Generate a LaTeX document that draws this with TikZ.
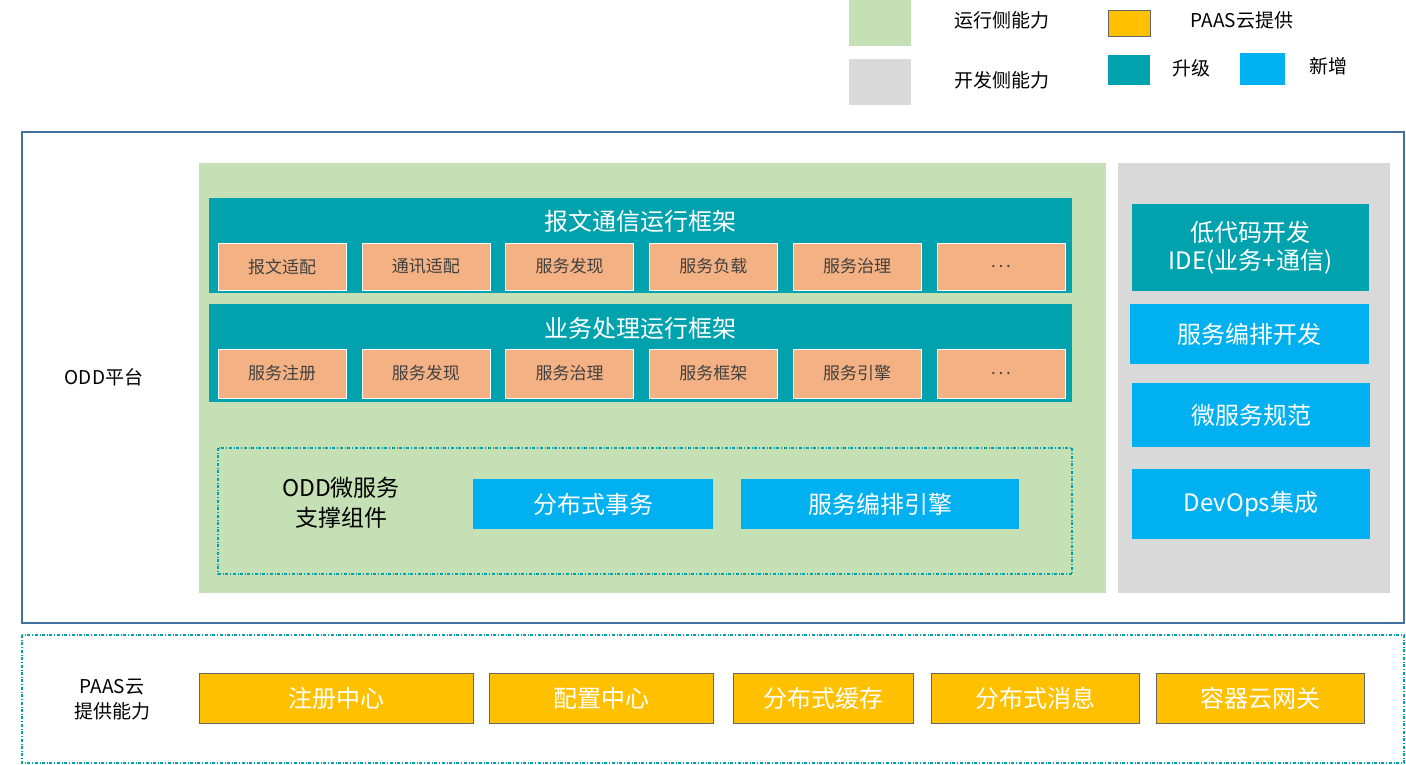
\documentclass[tikz,border=0pt]{standalone}
\usepackage{fontspec}
\setmainfont{Noto Sans CJK SC}
\definecolor{upg}{RGB}{0,162,174}
\definecolor{newc}{RGB}{0,176,240}
\definecolor{salmon}{RGB}{244,177,131}
\definecolor{rungreen}{RGB}{197,224,180}
\definecolor{devgray}{RGB}{217,217,217}
\definecolor{paas}{RGB}{255,192,0}
\definecolor{framec}{RGB}{65,113,156}
\tikzset{
  blk/.style={rectangle, inner sep=0pt, align=center},
  upgbox/.style={blk, fill=upg, text=white, font=\fontsize{24}{28}\selectfont},
  newbox/.style={blk, fill=newc, text=white, font=\fontsize{24}{28}\selectfont},
  subbox/.style={blk, fill=salmon, draw=white, text=black!75, minimum width=128pt, minimum height=47pt, font=\fontsize{17}{20}\selectfont},
  paasbox/.style={blk, fill=paas, draw=black!60, text=white, minimum height=50pt, font=\fontsize{24}{28}\selectfont},
  lbl/.style={inner sep=0pt, align=center, text=black, font=\fontsize{19}{25}\selectfont},
  dashframe/.style={draw=upg, dash dot, line width=1.2pt}
}
\begin{document}
\begin{tikzpicture}[x=1pt, y=-1pt]
    \useasboundingbox (0,0) rectangle (1406,765);
    % legend
    \fill[rungreen] (849,0) rectangle (911,46);
    \fill[devgray] (849,59) rectangle (911,105);
    \node[lbl] (lrun) at (1002,20) {运行侧能力};
    \node[lbl] (ldev) at (1002,80) {开发侧能力};
    \node[blk, fill=paas, draw=black!60, minimum width=42pt, minimum height=26pt] (kpaas) at (1129,23) {};
    \node[lbl] (lpaas) at (1242,20) {PAAS云提供};
    \node[blk, fill=upg, minimum width=42pt, minimum height=30pt] (kupg) at (1129,70) {};
    \node[lbl] (lupg) at (1191,68) {升级};
    \node[blk, fill=newc, minimum width=45pt, minimum height=32pt] (knew) at (1262.5,69) {};
    \node[lbl] (lnew) at (1328,66) {新增};

    % ODD platform
    \draw[framec, line width=1.2pt] (22,132) rectangle (1404,623);
    \node[lbl] (odd) at (104,377) {ODD平台};
    \fill[rungreen] (199,163) rectangle (1106,593);
    \fill[devgray] (1118,163) rectangle (1390,593);

    \node[upgbox, minimum width=863pt, minimum height=95pt] (msgfw) at (640.5,245.5) {};
    \node[text=white, font=\fontsize{24}{28}\selectfont] (msgt) at (640,221) {报文通信运行框架};
    \foreach \t [count=\i] in {报文适配,通讯适配,服务发现,服务负载,服务治理,{.\,.\,.}}
        \node[subbox] (m\i) at ({282+143.8*(\i-1)},266.5) {\t};

    \node[upgbox, minimum width=863pt, minimum height=98pt] (bizfw) at (640.5,353) {};
    \node[text=white, font=\fontsize{24}{28}\selectfont] (bizt) at (640,328) {业务处理运行框架};
    \foreach \t [count=\i] in {服务注册,服务发现,服务治理,服务框架,服务引擎,{.\,.\,.}}
        \node[subbox, minimum height=49pt] (b\i) at ({282+143.8*(\i-1)},373.5) {\t};

    \draw[dashframe] (218,448) rectangle (1072,574);
    \node[lbl, font=\fontsize{23}{30}\selectfont] (sup) at (341,503) {ODD微服务\\支撑组件};
    \node[newbox, minimum width=240pt, minimum height=50pt] (dtx) at (593,504) {分布式事务};
    \node[newbox, minimum width=278pt, minimum height=50pt] (orch) at (880,504) {服务编排引擎};

    % development side
    \node[upgbox, minimum width=237pt, minimum height=87pt] (ide) at (1250.5,247.5) {低代码开发\\IDE(业务+通信)};
    \node[newbox, minimum width=239pt, minimum height=60pt] (orchdev) at (1249.5,334) {服务编排开发};
    \node[newbox, minimum width=238pt, minimum height=64pt] (spec) at (1251,415) {微服务规范};
    \node[newbox, minimum width=238pt, minimum height=70pt] (devops) at (1251,504) {DevOps集成};

    % PAAS cloud
    \draw[dashframe] (22,635) rectangle (1404,763);
    \node[lbl] (paast) at (112,700) {PAAS云\\提供能力};
    \node[paasbox, minimum width=274pt] (reg) at (336,698) {注册中心};
    \node[paasbox, minimum width=224pt] (cfg) at (601,698) {配置中心};
    \node[paasbox, minimum width=180pt] (cache) at (823,698) {分布式缓存};
    \node[paasbox, minimum width=208pt] (mq) at (1035,698) {分布式消息};
    \node[paasbox, minimum width=208pt] (gw) at (1260,698) {容器云网关};
\end{tikzpicture}
\end{document}
